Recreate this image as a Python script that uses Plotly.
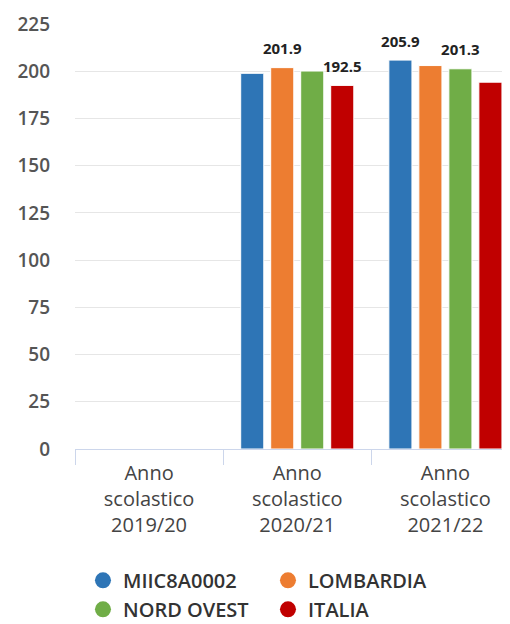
import plotly.graph_objects as go

categories = ["Anno<br>scolastico<br>2019/20", "Anno<br>scolastico<br>2020/21", "Anno<br>scolastico<br>2021/22"]
series_names = ["MIIC8A0002", "LOMBARDIA", "NORD OVEST", "ITALIA"]
miic = [None, 198.9, 205.9]
lombardia = [None, 201.9, 203.0]
nord_ovest = [None, 200.1, 201.3]
italia = [None, 192.5, 194.2]
# which data labels are visible (others hidden by overlap in the original)
show_miic = [False, False, True]
show_lombardia = [False, True, False]
show_nord_ovest = [False, False, True]
show_italia = [False, True, False]
y_ticks = [0, 25, 50, 75, 100, 125, 150, 175, 200, 225]

colors = ["#2e75b6", "#ed7d31", "#70ad47", "#c00000"]
values = [miic, lombardia, nord_ovest, italia]
shows = [show_miic, show_lombardia, show_nord_ovest, show_italia]

FONT = "Open Sans"
fig = go.Figure()
for i, (name, vals, col) in enumerate(zip(series_names, values, colors)):
    fig.add_trace(go.Bar(
        x=categories, y=vals, name=name, offsetgroup=str(i),
        marker=dict(color=col, line=dict(color="white", width=1)),
        showlegend=False, hoverinfo="skip"))
for i, (name, vals, show) in enumerate(zip(series_names, values, shows)):
    labels = [(f"{v:.1f}" if (s and v is not None) else "") for v, s in zip(vals, show)]
    fig.add_trace(go.Scatter(
        x=categories, y=vals, mode="markers+text", text=labels, textposition="top center",
        offsetgroup=str(i), marker=dict(size=14, opacity=0), cliponaxis=False,
        textfont=dict(family=FONT, size=15, color="#222", weight="bold"),
        showlegend=False, hoverinfo="skip"))
for name, col in zip(series_names, colors):
    fig.add_trace(go.Scatter(x=[None], y=[None], mode="markers", name=name, xaxis="x2", yaxis="y2",
                             marker=dict(symbol="circle", size=20, color=col)))

fig.update_layout(
    width=510, height=624, paper_bgcolor="white", plot_bgcolor="white",
    margin=dict(l=67, r=0, t=16, b=183),
    barmode="group", bargap=0.19, bargroupgap=0.23,
    scattermode="group", scattergap=0.19,
    font=dict(family=FONT, color="#555"),
    legend=dict(orientation="h", x=0.018, xanchor="left", yref="container", y=0.114, yanchor="top",
                entrywidth=140, font=dict(family=FONT, size=20, color="#333", weight=600),
                itemsizing="trace", tracegroupgap=0),
    xaxis2=dict(overlaying="x", visible=False, range=[0, 1]),
    yaxis2=dict(overlaying="y", visible=False, range=[0, 1]),
)
fig.layout.xaxis.update(type="category", range=[-0.5, 2.49], tickson="boundaries", ticks="outside",
                        ticklen=15, tickcolor="#ccd6eb", showline=True, linecolor="#ccd6eb", linewidth=1,
                        showgrid=False, automargin=False, ticklabelstandoff=6,
                        tickfont=dict(family=FONT, size=20, color="#444", weight=500))
fig.layout.yaxis.update(range=[0, 225], tickvals=y_ticks, showgrid=True, gridcolor="#e6e6e6", gridwidth=1,
                        zeroline=False, showline=False, ticklabelstandoff=24, automargin=False,
                        tickfont=dict(family=FONT, size=19, color="#555", weight=600))
fig.write_html("out.html")
